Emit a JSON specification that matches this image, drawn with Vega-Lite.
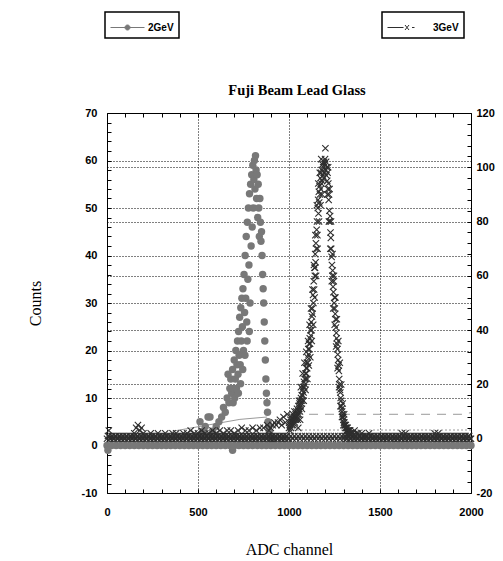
{
  "$schema": "https://vega.github.io/schema/vega-lite/v6.json",
  "width": 364,
  "height": 380,
  "autosize": {"type": "none"},
  "padding": {"left": 107, "top": 113, "right": 32, "bottom": 68},
  "background": "white",
  "config": {
    "view": {"stroke": "black", "strokeWidth": 1},
    "axis": {
      "labelFont": "Liberation Sans", "labelFontWeight": "bold", "labelFontSize": 11, "labelColor": "black",
      "tickColor": "black", "domain": false, "labelFlush": false, "labelOverlap": false,
      "titleFont": "Liberation Serif", "titleFontWeight": "normal", "titleFontSize": 16, "titleColor": "black"
    },
    "legend": {
      "orient": "none", "strokeColor": "black", "strokeWidth": 1.5, "fillColor": "white", "padding": 5,
      "labelFont": "Liberation Sans", "labelFontWeight": "bold", "labelFontSize": 10, "labelColor": "black",
      "title": null, "symbolStrokeWidth": 1
    }
  },
  "title": {"text": "Fuji Beam Lead Glass", "font": "Liberation Serif", "fontSize": 14.5, "fontWeight": "bold", "color": "black", "offset": -87, "dx": 8},
  "datasets": {
    "g2": [
      {"c":0,"v":0},{"c":25,"v":0},{"c":50,"v":0},{"c":75,"v":0},{"c":100,"v":0},{"c":125,"v":0},{"c":150,"v":0},{"c":175,"v":0},{"c":200,"v":0},{"c":225,"v":0},
      {"c":250,"v":0},{"c":275,"v":0},{"c":300,"v":0},{"c":325,"v":0},{"c":350,"v":0},{"c":375,"v":0},{"c":400,"v":0},{"c":425,"v":0},{"c":450,"v":0},{"c":475,"v":0},
      {"c":500,"v":0},{"c":525,"v":0},{"c":550,"v":0},{"c":575,"v":0},{"c":600,"v":0},{"c":625,"v":0},{"c":650,"v":0},{"c":675,"v":0},{"c":700,"v":0},{"c":725,"v":0},
      {"c":750,"v":0},{"c":775,"v":0},{"c":800,"v":0},{"c":825,"v":0},{"c":850,"v":0},{"c":875,"v":0},{"c":900,"v":0},{"c":925,"v":0},{"c":950,"v":0},{"c":975,"v":0},
      {"c":1000,"v":0},{"c":1025,"v":0},{"c":1050,"v":0},{"c":1075,"v":0},{"c":1100,"v":0},{"c":1125,"v":0},{"c":1150,"v":0},{"c":1175,"v":0},{"c":1200,"v":0},{"c":1225,"v":0},
      {"c":1250,"v":0},{"c":1275,"v":0},{"c":1300,"v":0},{"c":1325,"v":0},{"c":1350,"v":0},{"c":1375,"v":0},{"c":1400,"v":0},{"c":1425,"v":0},{"c":1450,"v":0},{"c":1475,"v":0},
      {"c":1500,"v":0},{"c":1525,"v":0},{"c":1550,"v":0},{"c":1575,"v":0},{"c":1600,"v":0},{"c":1625,"v":0},{"c":1650,"v":0},{"c":1675,"v":0},{"c":1700,"v":0},{"c":1725,"v":0},
      {"c":1750,"v":0},{"c":1775,"v":0},{"c":1800,"v":0},{"c":1825,"v":0},{"c":1850,"v":0},{"c":1875,"v":0},{"c":1900,"v":0},{"c":1925,"v":0},{"c":1950,"v":0},{"c":1975,"v":0},{"c":2000,"v":0},
      {"c":5,"v":-1},{"c":690,"v":-1},
      {"c":511,"v":5},{"c":525,"v":3},{"c":540,"v":4},{"c":555,"v":6},{"c":566,"v":6},{"c":580,"v":3},{"c":600,"v":4},{"c":615,"v":5},{"c":630,"v":6},{"c":640,"v":8},
      {"c":650,"v":7},{"c":660,"v":10},{"c":665,"v":15},{"c":670,"v":9},{"c":675,"v":12},{"c":680,"v":14},{"c":685,"v":11},
      {"c":690,"v":16},{"c":693,"v":9},{"c":696,"v":12},{"c":699,"v":18},{"c":702,"v":10},{"c":705,"v":14},{"c":708,"v":20},{"c":711,"v":12},{"c":714,"v":17},{"c":717,"v":22},
      {"c":720,"v":15},{"c":723,"v":24},{"c":726,"v":19},{"c":729,"v":27},{"c":732,"v":17},{"c":735,"v":29},{"c":738,"v":22},{"c":741,"v":31},{"c":744,"v":25},{"c":747,"v":33},
      {"c":750,"v":20},{"c":753,"v":36},{"c":756,"v":28},{"c":759,"v":40},{"c":762,"v":31},{"c":765,"v":44},{"c":768,"v":26},{"c":771,"v":47},{"c":774,"v":35},{"c":777,"v":50},
      {"c":780,"v":38},{"c":783,"v":53},{"c":786,"v":30},{"c":789,"v":55},{"c":792,"v":42},{"c":795,"v":57},{"c":798,"v":46},{"c":801,"v":59},{"c":804,"v":50},{"c":807,"v":56},
      {"c":810,"v":60},{"c":813,"v":54},{"c":816,"v":61},{"c":819,"v":58},{"c":822,"v":52},{"c":825,"v":57},{"c":828,"v":48},{"c":831,"v":55},{"c":834,"v":50},{"c":837,"v":44},
      {"c":840,"v":52},{"c":843,"v":47},{"c":846,"v":43},{"c":849,"v":45},{"c":852,"v":40},{"c":855,"v":36},{"c":858,"v":33},{"c":861,"v":30},{"c":864,"v":26},{"c":867,"v":22},
      {"c":870,"v":18},{"c":873,"v":14},{"c":876,"v":11},{"c":879,"v":9},{"c":882,"v":7},{"c":885,"v":5},{"c":888,"v":4},{"c":892,"v":3},{"c":897,"v":2},{"c":905,"v":1},
      {"c":722,"v":11},{"c":734,"v":13},{"c":746,"v":16},{"c":758,"v":19},{"c":770,"v":22},{"c":782,"v":24}
    ],
    "g3": [
      {"c":0,"v":0},{"c":10,"v":1},{"c":20,"v":0},{"c":30,"v":1},{"c":40,"v":0},{"c":50,"v":1},{"c":60,"v":0},{"c":70,"v":1},{"c":80,"v":0},{"c":90,"v":1},
      {"c":100,"v":0},{"c":110,"v":1},{"c":120,"v":0},{"c":130,"v":1},{"c":140,"v":0},{"c":150,"v":1},{"c":160,"v":0},{"c":170,"v":1},{"c":180,"v":0},{"c":190,"v":1},
      {"c":200,"v":0},{"c":210,"v":1},{"c":220,"v":0},{"c":230,"v":1},{"c":240,"v":0},{"c":250,"v":1},{"c":260,"v":0},{"c":270,"v":1},{"c":280,"v":0},{"c":290,"v":1},
      {"c":300,"v":0},{"c":310,"v":1},{"c":320,"v":0},{"c":330,"v":1},{"c":340,"v":0},{"c":350,"v":1},{"c":360,"v":0},{"c":370,"v":1},{"c":380,"v":0},{"c":390,"v":1},
      {"c":400,"v":0},{"c":410,"v":1},{"c":420,"v":0},{"c":430,"v":1},{"c":440,"v":0},{"c":450,"v":1},{"c":460,"v":0},{"c":470,"v":1},{"c":480,"v":0},{"c":490,"v":1},
      {"c":500,"v":0},{"c":510,"v":1},{"c":520,"v":0},{"c":530,"v":1},{"c":540,"v":0},{"c":550,"v":1},{"c":560,"v":0},{"c":570,"v":1},{"c":580,"v":0},{"c":590,"v":1},
      {"c":600,"v":0},{"c":610,"v":1},{"c":620,"v":0},{"c":630,"v":1},{"c":640,"v":0},{"c":650,"v":1},{"c":660,"v":0},{"c":670,"v":1},{"c":680,"v":0},{"c":690,"v":1},
      {"c":700,"v":0},{"c":710,"v":1},{"c":720,"v":0},{"c":730,"v":1},{"c":740,"v":0},{"c":750,"v":1},{"c":760,"v":0},{"c":770,"v":1},{"c":780,"v":0},{"c":790,"v":1},
      {"c":800,"v":0},{"c":810,"v":1},{"c":820,"v":0},{"c":830,"v":1},{"c":840,"v":0},{"c":850,"v":1},{"c":860,"v":0},{"c":870,"v":1},{"c":880,"v":0},{"c":890,"v":1},
      {"c":900,"v":0},{"c":910,"v":1},{"c":920,"v":0},{"c":930,"v":1},{"c":940,"v":0},{"c":950,"v":1},{"c":960,"v":0},{"c":970,"v":1},{"c":980,"v":0},{"c":990,"v":1},
      {"c":1000,"v":0},{"c":1010,"v":1},{"c":1020,"v":0},{"c":1030,"v":1},{"c":1040,"v":0},{"c":1050,"v":1},{"c":1060,"v":0},{"c":1070,"v":1},{"c":1080,"v":0},{"c":1090,"v":1},
      {"c":1100,"v":0},{"c":1110,"v":1},{"c":1120,"v":0},{"c":1130,"v":1},{"c":1140,"v":0},{"c":1150,"v":1},{"c":1160,"v":0},{"c":1170,"v":1},{"c":1180,"v":0},{"c":1190,"v":1},
      {"c":1200,"v":0},{"c":1210,"v":1},{"c":1220,"v":0},{"c":1230,"v":1},{"c":1240,"v":0},{"c":1250,"v":1},{"c":1260,"v":0},{"c":1270,"v":1},{"c":1280,"v":0},{"c":1290,"v":1},
      {"c":1300,"v":0},{"c":1310,"v":1},{"c":1320,"v":0},{"c":1330,"v":1},{"c":1340,"v":0},{"c":1350,"v":1},{"c":1360,"v":0},{"c":1370,"v":1},{"c":1380,"v":0},{"c":1390,"v":1},
      {"c":1400,"v":0},{"c":1410,"v":1},{"c":1420,"v":0},{"c":1430,"v":1},{"c":1440,"v":0},{"c":1450,"v":1},{"c":1460,"v":0},{"c":1470,"v":1},{"c":1480,"v":0},{"c":1490,"v":1},
      {"c":1500,"v":0},{"c":1510,"v":1},{"c":1520,"v":0},{"c":1530,"v":1},{"c":1540,"v":0},{"c":1550,"v":1},{"c":1560,"v":0},{"c":1570,"v":1},{"c":1580,"v":0},{"c":1590,"v":1},
      {"c":1600,"v":0},{"c":1610,"v":1},{"c":1620,"v":0},{"c":1630,"v":1},{"c":1640,"v":0},{"c":1650,"v":1},{"c":1660,"v":0},{"c":1670,"v":1},{"c":1680,"v":0},{"c":1690,"v":1},
      {"c":1700,"v":0},{"c":1710,"v":1},{"c":1720,"v":0},{"c":1730,"v":1},{"c":1740,"v":0},{"c":1750,"v":1},{"c":1760,"v":0},{"c":1770,"v":1},{"c":1780,"v":0},{"c":1790,"v":1},
      {"c":1800,"v":0},{"c":1810,"v":1},{"c":1820,"v":0},{"c":1830,"v":1},{"c":1840,"v":0},{"c":1850,"v":1},{"c":1860,"v":0},{"c":1870,"v":1},{"c":1880,"v":0},{"c":1890,"v":1},
      {"c":1900,"v":0},{"c":1910,"v":1},{"c":1920,"v":0},{"c":1930,"v":1},{"c":1940,"v":0},{"c":1950,"v":1},{"c":1960,"v":0},{"c":1970,"v":1},{"c":1980,"v":0},{"c":1990,"v":1},{"c":2000,"v":0},
      {"c":5,"v":1},{"c":15,"v":0},{"c":25,"v":1},{"c":35,"v":0},{"c":45,"v":1},{"c":55,"v":0},{"c":65,"v":1},{"c":75,"v":0},{"c":85,"v":1},{"c":95,"v":0},
      {"c":105,"v":1},{"c":115,"v":0},{"c":125,"v":1},{"c":135,"v":0},{"c":145,"v":1},{"c":155,"v":0},{"c":165,"v":1},{"c":175,"v":0},{"c":185,"v":1},{"c":195,"v":0},
      {"c":205,"v":1},{"c":215,"v":0},{"c":225,"v":1},{"c":235,"v":0},{"c":245,"v":1},{"c":255,"v":0},{"c":265,"v":1},{"c":275,"v":0},{"c":285,"v":1},{"c":295,"v":0},
      {"c":305,"v":1},{"c":315,"v":0},{"c":325,"v":1},{"c":335,"v":0},{"c":345,"v":1},{"c":355,"v":0},{"c":365,"v":1},{"c":375,"v":0},{"c":385,"v":1},{"c":395,"v":0},
      {"c":405,"v":1},{"c":415,"v":0},{"c":425,"v":1},{"c":435,"v":0},{"c":445,"v":1},{"c":455,"v":0},{"c":465,"v":1},{"c":475,"v":0},{"c":485,"v":1},{"c":495,"v":0},
      {"c":505,"v":1},{"c":515,"v":0},{"c":525,"v":1},{"c":535,"v":0},{"c":545,"v":1},{"c":555,"v":0},{"c":565,"v":1},{"c":575,"v":0},{"c":585,"v":1},{"c":595,"v":0},
      {"c":605,"v":1},{"c":615,"v":0},{"c":625,"v":1},{"c":635,"v":0},{"c":645,"v":1},{"c":655,"v":0},{"c":665,"v":1},{"c":675,"v":0},{"c":685,"v":1},{"c":695,"v":0},
      {"c":705,"v":1},{"c":715,"v":0},{"c":725,"v":1},{"c":735,"v":0},{"c":745,"v":1},{"c":755,"v":0},{"c":765,"v":1},{"c":775,"v":0},{"c":785,"v":1},{"c":795,"v":0},
      {"c":805,"v":1},{"c":815,"v":0},{"c":825,"v":1},{"c":835,"v":0},{"c":845,"v":1},{"c":855,"v":0},{"c":865,"v":1},{"c":875,"v":0},{"c":885,"v":1},{"c":895,"v":0},
      {"c":905,"v":1},{"c":915,"v":0},{"c":925,"v":1},{"c":935,"v":0},{"c":945,"v":1},{"c":955,"v":0},{"c":965,"v":1},{"c":975,"v":0},{"c":985,"v":1},{"c":995,"v":0},
      {"c":1305,"v":1},{"c":1315,"v":0},{"c":1325,"v":1},{"c":1335,"v":0},{"c":1345,"v":1},{"c":1355,"v":0},{"c":1365,"v":1},{"c":1375,"v":0},{"c":1385,"v":1},{"c":1395,"v":0},
      {"c":1405,"v":1},{"c":1415,"v":0},{"c":1425,"v":1},{"c":1435,"v":0},{"c":1445,"v":1},{"c":1455,"v":0},{"c":1465,"v":1},{"c":1475,"v":0},{"c":1485,"v":1},{"c":1495,"v":0},
      {"c":1505,"v":1},{"c":1515,"v":0},{"c":1525,"v":1},{"c":1535,"v":0},{"c":1545,"v":1},{"c":1555,"v":0},{"c":1565,"v":1},{"c":1575,"v":0},{"c":1585,"v":1},{"c":1595,"v":0},
      {"c":1605,"v":1},{"c":1615,"v":0},{"c":1625,"v":1},{"c":1635,"v":0},{"c":1645,"v":1},{"c":1655,"v":0},{"c":1665,"v":1},{"c":1675,"v":0},{"c":1685,"v":1},{"c":1695,"v":0},
      {"c":1705,"v":1},{"c":1715,"v":0},{"c":1725,"v":1},{"c":1735,"v":0},{"c":1745,"v":1},{"c":1755,"v":0},{"c":1765,"v":1},{"c":1775,"v":0},{"c":1785,"v":1},{"c":1795,"v":0},
      {"c":1805,"v":1},{"c":1815,"v":0},{"c":1825,"v":1},{"c":1835,"v":0},{"c":1845,"v":1},{"c":1855,"v":0},{"c":1865,"v":1},{"c":1875,"v":0},{"c":1885,"v":1},{"c":1895,"v":0},
      {"c":1905,"v":1},{"c":1915,"v":0},{"c":1925,"v":1},{"c":1935,"v":0},{"c":1945,"v":1},{"c":1955,"v":0},{"c":1965,"v":1},{"c":1975,"v":0},{"c":1985,"v":1},{"c":1995,"v":0},
      {"c":10,"v":3},{"c":150,"v":2},{"c":160,"v":4},{"c":170,"v":5},{"c":180,"v":3},{"c":190,"v":4},{"c":200,"v":2},{"c":240,"v":2},{"c":280,"v":2},{"c":320,"v":2},
      {"c":360,"v":2},{"c":380,"v":2},{"c":420,"v":2},{"c":440,"v":2},{"c":460,"v":3},{"c":480,"v":2},{"c":500,"v":2},{"c":520,"v":3},{"c":540,"v":2},{"c":560,"v":2},
      {"c":580,"v":3},{"c":600,"v":2},{"c":620,"v":3},{"c":640,"v":2},{"c":660,"v":3},{"c":680,"v":3},{"c":700,"v":2},{"c":720,"v":3},{"c":740,"v":4},{"c":760,"v":3},
      {"c":780,"v":3},{"c":800,"v":4},{"c":820,"v":3},{"c":840,"v":4},{"c":860,"v":4},{"c":880,"v":5},{"c":890,"v":3},{"c":900,"v":4},{"c":910,"v":5},{"c":920,"v":6},
      {"c":930,"v":5},{"c":940,"v":6},{"c":950,"v":7},{"c":960,"v":5},{"c":970,"v":8},{"c":980,"v":6},{"c":990,"v":9},
      {"c":1000,"v":4},{"c":1002,"v":6},{"c":1004,"v":3},{"c":1006,"v":5},{"c":1008,"v":7},{"c":1010,"v":4},{"c":1012,"v":6},{"c":1014,"v":8},{"c":1016,"v":5},{"c":1018,"v":7},
      {"c":1020,"v":6},{"c":1022,"v":9},{"c":1024,"v":5},{"c":1026,"v":8},{"c":1028,"v":7},{"c":1030,"v":10},{"c":1032,"v":6},{"c":1034,"v":8},{"c":1036,"v":9},{"c":1038,"v":7},
      {"c":1040,"v":10},{"c":1042,"v":8},{"c":1044,"v":11},{"c":1046,"v":9},{"c":1048,"v":7},{"c":1050,"v":10},{"c":1052,"v":12},{"c":1054,"v":9},{"c":1056,"v":11},{"c":1058,"v":13},
      {"c":1060,"v":10},{"c":1062,"v":14},{"c":1064,"v":12},{"c":1066,"v":15},{"c":1068,"v":13},{"c":1070,"v":16},{"c":1072,"v":14},{"c":1074,"v":18},{"c":1076,"v":16},{"c":1078,"v":19},
      {"c":1080,"v":17},{"c":1082,"v":21},{"c":1084,"v":19},{"c":1086,"v":22},{"c":1088,"v":20},{"c":1090,"v":24},{"c":1092,"v":22},{"c":1094,"v":26},{"c":1096,"v":24},{"c":1098,"v":28},
      {"c":1100,"v":26},{"c":1102,"v":30},{"c":1104,"v":28},{"c":1106,"v":33},{"c":1108,"v":31},{"c":1110,"v":35},{"c":1112,"v":33},{"c":1114,"v":37},{"c":1116,"v":35},{"c":1118,"v":40},
      {"c":1120,"v":38},{"c":1122,"v":43},{"c":1124,"v":40},{"c":1126,"v":45},{"c":1128,"v":48},{"c":1130,"v":46},{"c":1132,"v":53},{"c":1134,"v":50},{"c":1136,"v":58},{"c":1138,"v":55},
      {"c":1140,"v":63},{"c":1142,"v":60},{"c":1144,"v":68},{"c":1146,"v":65},{"c":1148,"v":72},{"c":1150,"v":70},{"c":1152,"v":77},{"c":1154,"v":80},{"c":1156,"v":75},{"c":1158,"v":85},
      {"c":1160,"v":88},{"c":1162,"v":83},{"c":1164,"v":91},{"c":1166,"v":87},{"c":1168,"v":93},{"c":1170,"v":90},{"c":1172,"v":96},{"c":1174,"v":92},{"c":1176,"v":98},{"c":1178,"v":94},
      {"c":1180,"v":99},{"c":1182,"v":95},{"c":1184,"v":101},{"c":1186,"v":97},{"c":1188,"v":100},{"c":1190,"v":96},{"c":1192,"v":102},{"c":1194,"v":98},{"c":1196,"v":101},{"c":1198,"v":103},
      {"c":1200,"v":107},{"c":1202,"v":99},{"c":1204,"v":102},{"c":1206,"v":97},{"c":1208,"v":100},{"c":1210,"v":95},{"c":1212,"v":98},{"c":1214,"v":92},{"c":1216,"v":94},{"c":1218,"v":88},
      {"c":1220,"v":90},{"c":1222,"v":84},{"c":1224,"v":80},{"c":1226,"v":82},{"c":1228,"v":76},{"c":1230,"v":74},{"c":1232,"v":70},{"c":1234,"v":67},{"c":1236,"v":64},{"c":1238,"v":60},
      {"c":1240,"v":62},{"c":1242,"v":56},{"c":1244,"v":54},{"c":1246,"v":58},{"c":1248,"v":50},{"c":1250,"v":52},{"c":1252,"v":48},{"c":1254,"v":46},{"c":1256,"v":44},{"c":1258,"v":41},
      {"c":1260,"v":39},{"c":1262,"v":37},{"c":1264,"v":35},{"c":1266,"v":33},{"c":1268,"v":31},{"c":1270,"v":29},{"c":1272,"v":27},{"c":1274,"v":25},{"c":1276,"v":22},{"c":1278,"v":20},
      {"c":1280,"v":18},{"c":1282,"v":17},{"c":1284,"v":15},{"c":1286,"v":14},{"c":1288,"v":12},{"c":1290,"v":11},{"c":1292,"v":10},{"c":1294,"v":9},{"c":1296,"v":8},{"c":1298,"v":8},
      {"c":1300,"v":7},{"c":1302,"v":6},{"c":1304,"v":6},{"c":1306,"v":5},{"c":1308,"v":5},{"c":1310,"v":4},{"c":1312,"v":5},{"c":1314,"v":4},{"c":1316,"v":3},{"c":1318,"v":4},
      {"c":1320,"v":3},{"c":1322,"v":4},{"c":1324,"v":3},{"c":1326,"v":2},{"c":1328,"v":3},{"c":1330,"v":2},{"c":1332,"v":3},{"c":1334,"v":2},{"c":1336,"v":3},{"c":1338,"v":2},{"c":1340,"v":2},
      {"c":1051,"v":4},{"c":1055,"v":14},{"c":1061,"v":7},{"c":1065,"v":19},{"c":1071,"v":11},{"c":1075,"v":24},{"c":1081,"v":14},{"c":1085,"v":28},{"c":1091,"v":18},{"c":1095,"v":32},
      {"c":1101,"v":22},{"c":1105,"v":36},{"c":1109,"v":27},{"c":1113,"v":42},{"c":1117,"v":30},{"c":1121,"v":48},{"c":1125,"v":36},{"c":1129,"v":55},{"c":1133,"v":42},{"c":1137,"v":64},
      {"c":1141,"v":52},{"c":1143,"v":63},{"c":1145,"v":75},{"c":1149,"v":60},{"c":1153,"v":86},{"c":1157,"v":70},{"c":1161,"v":94},{"c":1165,"v":80},{"c":1169,"v":98},{"c":1173,"v":86},
      {"c":1177,"v":103},{"c":1181,"v":90},{"c":1211,"v":90},{"c":1215,"v":100},{"c":1219,"v":80},{"c":1223,"v":92},{"c":1227,"v":70},{"c":1231,"v":80},{"c":1235,"v":58},{"c":1239,"v":68},
      {"c":1243,"v":48},{"c":1247,"v":60},{"c":1251,"v":42},{"c":1255,"v":52},{"c":1259,"v":34},{"c":1263,"v":44},{"c":1267,"v":26},{"c":1271,"v":36},{"c":1275,"v":19},{"c":1279,"v":28},
      {"c":1283,"v":12},{"c":1287,"v":20},{"c":1291,"v":8},{"c":1295,"v":13},{"c":1299,"v":5},{"c":1303,"v":9},
      {"c":1350,"v":2},{"c":1360,"v":3},{"c":1370,"v":2},{"c":1380,"v":2},{"c":1400,"v":2},{"c":1420,"v":1},{"c":1440,"v":2},
      {"c":1620,"v":2},{"c":1640,"v":2},{"c":1800,"v":2},{"c":1820,"v":2}
    ],
    "t2": [{"c":360,"v":3},{"c":730,"v":5.5},{"c":880,"v":6}],
    "t3a": [{"c":1110,"v":9},{"c":1950,"v":9},{"c":2000,"v":9.6}],
    "t3b": [{"c":1000,"v":3.2},{"c":2000,"v":3.2}]
  },
  "layer": [
    {
      "layer": [
        {
          "data": {"name": "t2"},
          "mark": {"type": "line", "color": "#9a9a9a", "strokeWidth": 1},
          "encoding": {
            "x": {"field": "c", "type": "quantitative", "scale": {"domain": [0, 2000], "nice": false, "zero": false}},
            "y": {"field": "v", "type": "quantitative", "scale": {"domain": [-10, 70], "nice": false, "zero": false}}
          }
        },
        {
          "data": {"name": "g2"},
          "mark": {"type": "point", "shape": "circle", "filled": true, "size": 55, "opacity": 1},
          "encoding": {
            "x": {"field": "c", "type": "quantitative", "scale": {"domain": [0, 2000], "nice": false, "zero": false},
              "axis": {"orient": "bottom", "title": "ADC channel", "titlePadding": 24, "labelOverlap": false, "tickCount": 200,
                "values": [0,100,200,300,400,500,600,700,800,900,1000,1100,1200,1300,1400,1500,1600,1700,1800,1900,2000],
                "labelExpr": "datum.value % 500 === 0 ? '' + datum.value : ''",
                "tickSize": -4, "labelPadding": 17, "grid": true, "gridColor": "#000", "gridDash": [1, 2],
                "gridOpacity": {"condition": {"test": "datum.value % 500 === 0 && datum.value > 0 && datum.value < 2000", "value": 1}, "value": 0}}},
            "y": {"field": "v", "type": "quantitative", "scale": {"domain": [-10, 70], "nice": false, "zero": false},
              "axis": {"orient": "left", "title": "Counts", "titlePadding": 38, "labelOverlap": false, "tickCount": 200,
                "values": [-10,-8,-6,-4,-2,0,2,4,6,8,10,12,14,16,18,20,22,24,26,28,30,32,34,36,38,40,42,44,46,48,50,52,54,56,58,60,62,64,66,68,70],
                "labelExpr": "datum.value % 10 === 0 ? '' + datum.value : ''",
                "tickSize": -4, "labelPadding": 14, "grid": true, "gridColor": "#000", "gridDash": [1, 2],
                "gridOpacity": {"condition": {"test": "datum.value % 10 === 0 && datum.value > -10 && datum.value < 70", "value": 1}, "value": 0}}},
            "color": {"datum": "2GeV", "scale": {"domain": ["2GeV"], "range": ["#787878"]},
              "legend": {"legendX": -2, "legendY": -101, "symbolType": "M-1.7,0H-0.25M0.25,0H1.7M-0.25,0A0.25,0.25,0,1,1,0.25,0A0.25,0.25,0,1,1,-0.25,0Z",
                "symbolSize": 400, "symbolOffset": 7, "labelOffset": 10, "symbolFillColor": "#787878", "symbolStrokeColor": "#787878"}}
          }
        }
      ]
    },
    {
      "layer": [
        {
          "data": {"name": "t3a"},
          "mark": {"type": "line", "color": "#9a9a9a", "strokeWidth": 1, "strokeDash": [9, 7]},
          "encoding": {
            "x": {"field": "c", "type": "quantitative", "scale": {"domain": [0, 2000], "nice": false, "zero": false}},
            "y": {"field": "v", "type": "quantitative", "scale": {"domain": [-20, 120], "nice": false, "zero": false}}
          }
        },
        {
          "data": {"name": "t3b"},
          "mark": {"type": "line", "color": "#9a9a9a", "strokeWidth": 1, "strokeDash": [2, 2]},
          "encoding": {
            "x": {"field": "c", "type": "quantitative", "scale": {"domain": [0, 2000], "nice": false, "zero": false}},
            "y": {"field": "v", "type": "quantitative", "scale": {"domain": [-20, 120], "nice": false, "zero": false}}
          }
        },
        {
          "data": {"name": "g3"},
          "mark": {"type": "point", "shape": "M-1,-1L1,1M-1,1L1,-1", "filled": false, "size": 40, "strokeWidth": 1.1, "opacity": 1},
          "encoding": {
            "x": {"field": "c", "type": "quantitative", "scale": {"domain": [0, 2000], "nice": false, "zero": false},
              "axis": {"orient": "top", "title": null, "labels": false, "grid": false, "labelOverlap": false, "tickCount": 200,
                "values": [0,100,200,300,400,500,600,700,800,900,1000,1100,1200,1300,1400,1500,1600,1700,1800,1900,2000],
                "tickSize": -4}},
            "y": {"field": "v", "type": "quantitative", "scale": {"domain": [-20, 120], "nice": false, "zero": false},
              "axis": {"orient": "right", "title": null, "labelOverlap": false, "tickCount": 200,
                "values": [-20,-16,-12,-8,-4,0,4,8,12,16,20,24,28,32,36,40,44,48,52,56,60,64,68,72,76,80,84,88,92,96,100,104,108,112,116,120],
                "labelExpr": "datum.value % 20 === 0 ? '' + datum.value : ''",
                "tickSize": -4, "labelPadding": 9, "grid": true, "gridColor": "#000", "gridDash": [1, 2],
                "gridOpacity": {"condition": {"test": "datum.value % 20 === 0 && datum.value > -20 && datum.value < 120", "value": 1}, "value": 0}}},
            "color": {"datum": "3GeV", "scale": {"domain": ["3GeV"], "range": ["#2e2e2e"]},
              "legend": {"legendX": 275, "legendY": -101, "symbolType": "M-1.7,0H-0.1M0.05,-0.25L0.45,0.25M0.05,0.25L0.45,-0.25M0.75,0H1.0",
                "symbolSize": 400, "symbolOffset": 7, "labelOffset": 18, "symbolFillColor": "transparent", "symbolStrokeColor": "#555555"}}
          }
        }
      ]
    }
  ],
  "resolve": {
    "scale": {"y": "independent", "color": "independent"},
    "axis": {"x": "independent", "y": "independent"},
    "legend": {"color": "independent"}
  }
}
